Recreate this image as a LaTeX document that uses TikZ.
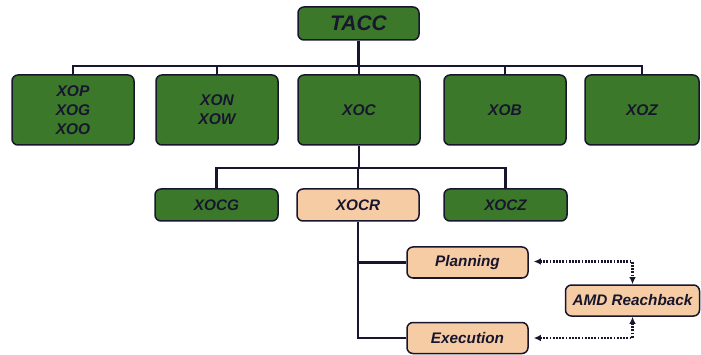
\documentclass[tikz,border=0pt]{standalone}
\usepackage{fontspec}
\setmainfont{Liberation Sans}
\usetikzlibrary{arrows.meta}
\definecolor{boxgreen}{RGB}{60,120,42}
\definecolor{boxpeach}{RGB}{246,204,164}
\definecolor{ink}{RGB}{24,22,46}
\tikzset{
  unit/.style={draw=ink, line width=1.5pt, rounded corners=6pt, inner sep=0pt,
    text=ink, align=center},
  greenbox/.style={unit, fill=boxgreen},
  peachbox/.style={unit, fill=boxpeach},
  big/.style={font=\fontsize{21}{23}\selectfont\bfseries\itshape},
  mid/.style={font=\fontsize{15.5}{19}\selectfont\bfseries\itshape},
  small/.style={font=\fontsize{15.3}{17}\selectfont\bfseries\itshape},
  link/.style={draw=ink, line width=2.5pt},
  reach/.style={draw=ink, line width=2.2pt, dash pattern=on 1.8pt off 1.4pt,
    {Latex[length=7pt,width=6.5pt]}-{Latex[length=7pt,width=6.5pt]}}
}
\begin{document}
\begin{tikzpicture}[x=1pt,y=-1pt]
\useasboundingbox (0,0) rectangle (701,355);
% top level
\node[greenbox, big, minimum width=121pt, minimum height=33pt] (tacc) at (358.5,23.5) {TACC};
% directorates
\node[greenbox, mid, minimum width=122pt, minimum height=70pt] (xop) at (73,110) {XOP\\XOG\\XOO};
\node[greenbox, mid, minimum width=122pt, minimum height=70pt] (xon) at (217,110) {XON\\XOW};
\node[greenbox, mid, minimum width=122pt, minimum height=70pt] (xoc) at (359,110) {XOC};
\node[greenbox, mid, minimum width=122pt, minimum height=70pt] (xob) at (505,110) {XOB};
\node[greenbox, mid, minimum width=114pt, minimum height=70pt] (xoz) at (642,110) {XOZ};
% divisions
\node[greenbox, small, minimum width=123pt, minimum height=32pt] (xocg) at (216.5,205) {XOCG};
\node[peachbox, small, minimum width=122pt, minimum height=32pt] (xocr) at (358,205) {XOCR};
\node[greenbox, small, minimum width=123pt, minimum height=32pt] (xocz) at (505.5,205) {XOCZ};
% branches
\node[peachbox, small, minimum width=121pt, minimum height=31pt] (plan) at (467.5,262.5) {Planning};
\node[peachbox, small, minimum width=121pt, minimum height=31pt] (exec) at (467.5,338) {Execution};
\node[peachbox, small, minimum width=134pt, minimum height=31pt] (amd) at (632.5,300.5) {AMD Reachback};
% tree connectors
\coordinate (busL) at (73,66);
\coordinate (busR) at (642,66);
\draw[link] (tacc.south) -- (tacc.south |- busL);
\draw[link, line cap=rect] (busL) -- (busR);
\foreach \n in {xop,xon,xoc,xob,xoz} \draw[link] (\n.north |- busL) -- (\n.north);
\coordinate (subL) at (216.5,168);
\coordinate (subR) at (505.5,168);
\draw[link] (xoc.south) -- (xoc.south |- subL);
\draw[link, line cap=rect] (subL) -- (subR);
\foreach \n in {xocg,xocr,xocz} \draw[link] (\n.north |- subL) -- (\n.north);
\coordinate (trunk) at (358,338);
\draw[link] (xocr.south) -- (trunk) -- (exec.west);
\draw[link] (xocr.south |- plan.west) -- (plan.west);
% reachback links
\draw[reach] ([xshift=5pt,yshift=1pt]plan.east) -| (amd.north);
\draw[reach] ([xshift=5pt]exec.east) -| (amd.south);
\end{tikzpicture}
\end{document}
